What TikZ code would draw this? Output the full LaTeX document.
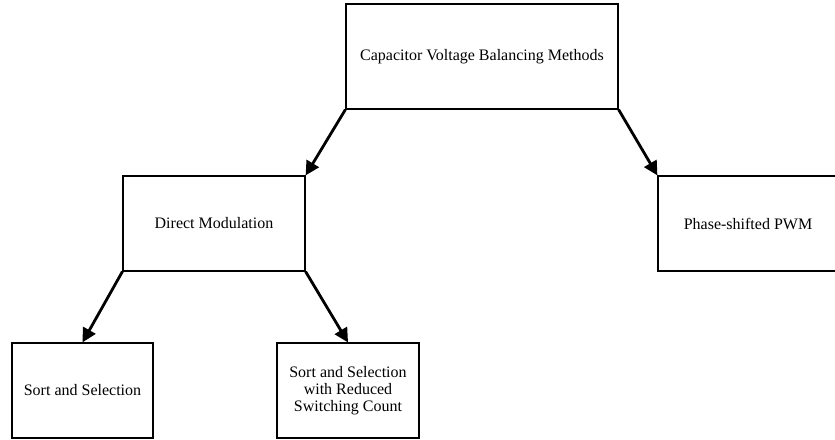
\documentclass[tikz,border=0pt]{standalone}
\usepackage{fontspec}
\setmainfont{Liberation Serif}
\usetikzlibrary{arrows.meta}
\begin{document}
\begin{tikzpicture}[x=1pt,y=-1pt,
  box/.style={draw=black, line width=1.2pt, fill=white, inner sep=0pt, align=center,
    font=\fontsize{16}{17}\selectfont},
  arr/.style={line width=2.8pt, -{Triangle[length=14pt,width=14pt]}}]
\clip (0,0) rectangle (835,439);
\path[use as bounding box] (0,0) rectangle (835,439);
\node[box, minimum width=272pt, minimum height=105pt] (top) at (482,56.5) {Capacitor Voltage Balancing Methods};
\node[box, minimum width=182pt, minimum height=95pt] (dm) at (214,223.5) {Direct Modulation};
\node[box, minimum width=180pt, minimum height=95pt] (ps) at (748,223.5) {Phase-shifted PWM};
\node[box, minimum width=141pt, minimum height=95pt] (ss) at (82.5,390.5) {Sort and Selection};
\node[box, minimum width=142pt, minimum height=95pt] (ssr) at (348,390.5) {Sort and Selection\\with Reduced\\Switching Count};
\draw[arr] (top.south west) -- (dm.north east);
\draw[arr] (top.south east) -- (ps.north west);
\draw[arr] (dm.south west) -- (ss.north);
\draw[arr] (dm.south east) -- (ssr.north);
\end{tikzpicture}
\end{document}
